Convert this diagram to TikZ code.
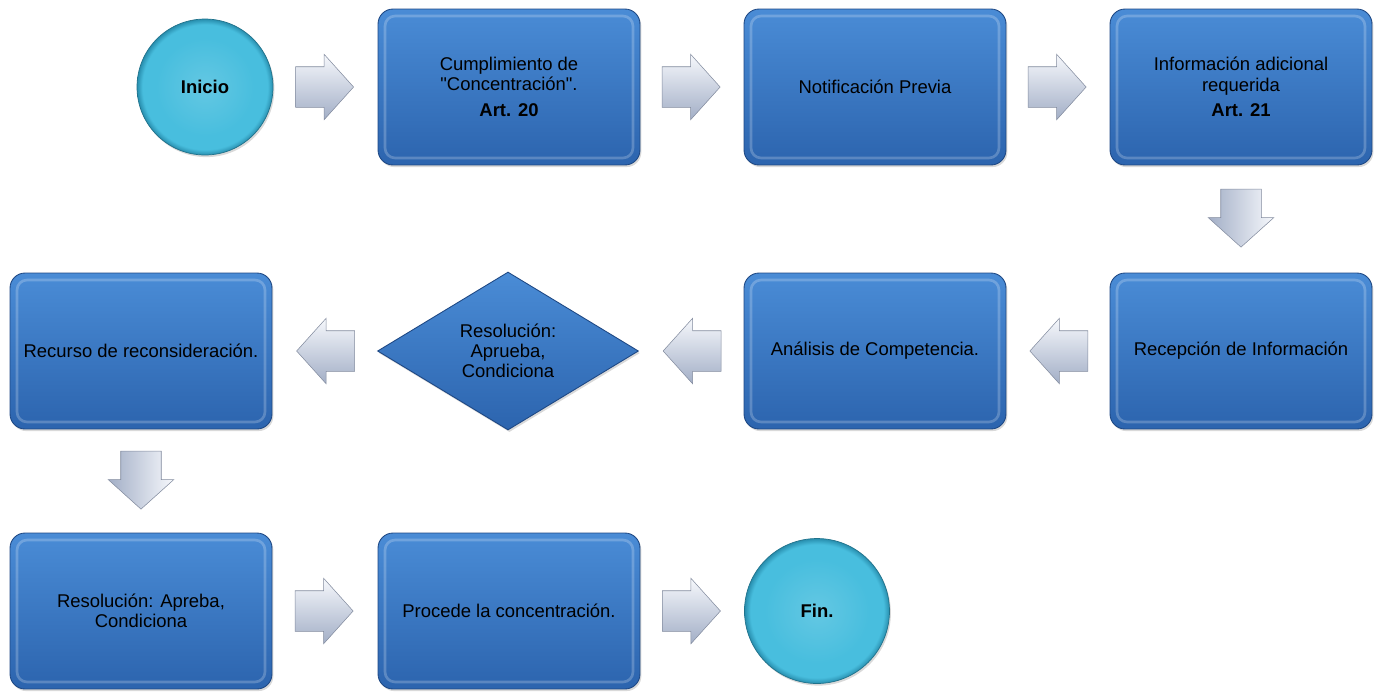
\documentclass[tikz,border=0pt]{standalone}
\usepackage{fontspec}
\setmainfont{Liberation Sans}
\usetikzlibrary{shapes.geometric,shapes.arrows,shadows,calc}

\definecolor{boxtop}{RGB}{74,140,214}
\definecolor{boxbot}{RGB}{44,100,174}
\definecolor{boxedge}{RGB}{30,72,132}
\definecolor{discmid}{RGB}{72,190,222}
\definecolor{discedge}{RGB}{40,142,174}
\definecolor{arrowlt}{RGB}{246,248,252}
\definecolor{arrowdk}{RGB}{162,174,198}
\pgfdeclareradialshading{disc}{\pgfpoint{0bp}{0bp}}{color(0bp)=(discmid!85!white); color(18bp)=(discmid); color(23bp)=(discmid); color(25bp)=(discedge); color(50bp)=(discedge)}

\begin{document}
\begin{tikzpicture}[x=0.02cm,y=-0.02cm, % flujo de concentracion
    every node/.style={font=\fontsize{10.5}{11.5}\selectfont,align=center,text=black},
    stepbox/.style={rectangle,rounded corners=0.3cm,minimum width=5.24cm,minimum height=3.12cm,
        top color=boxtop,bottom color=boxbot,draw=boxedge,line width=0.5pt,
        drop shadow={opacity=0.3,shadow xshift=0.8pt,shadow yshift=-1.2pt},
        path picture={\draw[white,opacity=0.22,line width=1.5pt,rounded corners=0.2cm]
            ([shift={(0.14cm,-0.14cm)}]path picture bounding box.north west) rectangle
            ([shift={(-0.14cm,0.14cm)}]path picture bounding box.south east);}},
    decision/.style={diamond,aspect=1.65,minimum width=5.22cm,minimum height=3.16cm,inner sep=0pt,
        top color=boxtop,bottom color=boxbot,draw=boxedge,line width=0.5pt,
        drop shadow={opacity=0.3,shadow xshift=0.8pt,shadow yshift=-1.2pt}},
    terminal/.style={circle,shading=disc,draw=discedge!80!black,line width=0.4pt,
        font=\fontsize{10.5}{11.5}\selectfont\bfseries,
        drop shadow={opacity=0.3,shadow xshift=0.8pt,shadow yshift=-1.2pt}},
    blockarrow/.style={single arrow,minimum height=1.16cm,
        single arrow head extend=0.25cm,single arrow tip angle=96,
        draw=arrowdk!80!black,line width=0.3pt},
    toright/.style={blockarrow,inner xsep=0pt,inner ysep=0.4cm,xshift=-0.2cm,
        top color=arrowlt,bottom color=arrowdk},
    toleft/.style={blockarrow,inner xsep=0pt,inner ysep=0.4cm,xshift=0.2cm,shape border rotate=180,
        top color=arrowlt,bottom color=arrowdk},
    todown/.style={blockarrow,inner xsep=0.4cm,inner ysep=0pt,yshift=0.2cm,shape border rotate=270,
        left color=arrowdk,right color=arrowlt}]
    \useasboundingbox (0,0) rectangle (1380,691);

    % fila 1
    \node[terminal,minimum size=2.72cm] (inicio) at (205,87) {Inicio};
    \node[stepbox] (cumple) at (509,87) {Cumplimiento de\\\textquotedbl Concentración\textquotedbl.\\[3pt]\textbf{Art. 20}};
    \node[stepbox] (notif) at (875,87) {Notificación Previa};
    \node[stepbox] (info) at (1241,87) {Información adicional\\requerida\\[3pt]\textbf{Art. 21}};
    % fila 2
    \node[stepbox] (recep) at (1241,351) {Recepción de Información};
    \node[stepbox] (anal) at (875,351) {Análisis de Competencia.};
    \node[decision] (resol) at (508,351) {Resolución:\\Aprueba,\\Condiciona};
    \node[stepbox] (recurso) at (141,351) {Recurso de reconsideración.};
    % fila 3
    \node[stepbox] (resfin) at (141,611) {Resolución: Apreba,\\Condiciona};
    \node[stepbox] (procede) at (509,611) {Procede la concentración.};
    \node[terminal,minimum size=2.9cm] (fin) at (817,611) {Fin.};

    % flechas
    \node[toright] at ($(inicio.east)!0.5!(cumple.west)$) {};
    \node[toright] at ($(cumple.east)!0.5!(notif.west)$) {};
    \node[toright] at ($(notif.east)!0.5!(info.west)$) {};
    \node[todown] at ($(info.south)!0.5!(recep.north)$) {};
    \node[toleft] at ($(recep.west)!0.5!(anal.east)$) {};
    \node[toleft] at ($(anal.west)!0.5!(resol.east)$) {};
    \node[toleft] at ($(resol.west)!0.5!(recurso.east)$) {};
    \node[todown] at ($(recurso.south)!0.5!(resfin.north)$) {};
    \node[toright] at ($(resfin.east)!0.5!(procede.west)$) {};
    \node[toright] at ($(procede.east)!0.5!(fin.west)$) {};
\end{tikzpicture}
\end{document}
